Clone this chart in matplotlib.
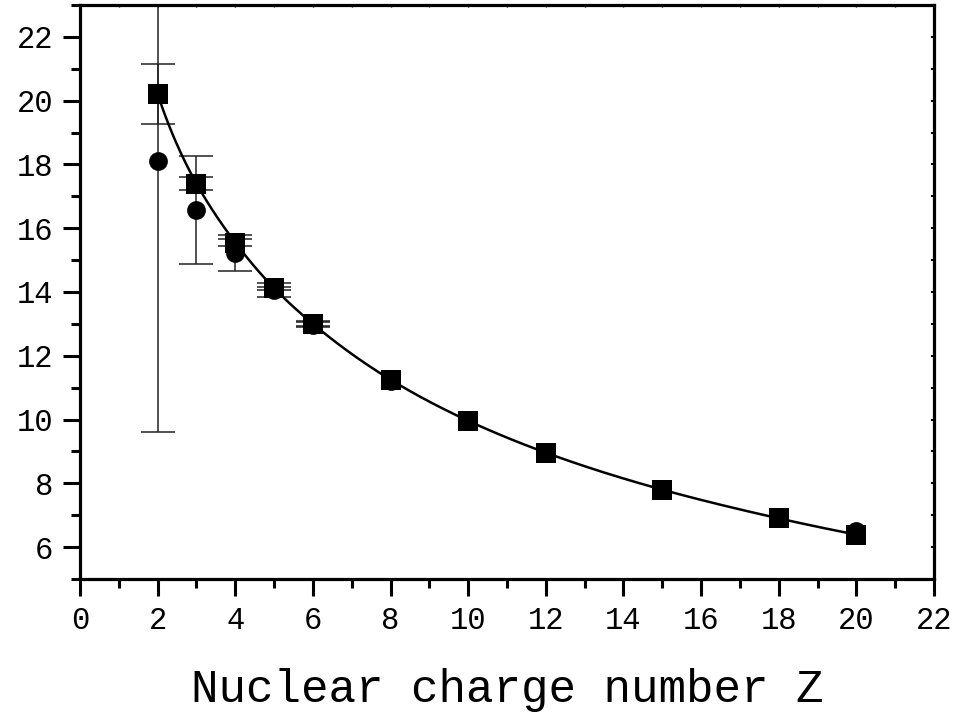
import numpy as np
import matplotlib
matplotlib.use("Agg")
import matplotlib.pyplot as plt
from matplotlib.ticker import MultipleLocator

plt.rcParams['font.family'] = ['Liberation Mono', 'DejaVu Sans Mono']

# Squares (with error bars)
sq_z = [2, 3, 4, 5, 6, 8, 10, 12, 15, 18, 20]
sq_y = [20.21, 17.40, 15.55, 14.12, 13.00, 11.25, 9.96, 8.96, 7.80, 6.90, 6.39]
sq_err = [0.94, 0.20, 0.12, 0.05, 0.08, 0.0, 0.0, 0.0, 0.0, 0.0, 0.0]

# Circles (with error bars)
ci_z = [2, 3, 4, 5, 6, 8, 10, 12, 15, 18, 20]
ci_y = [18.12, 16.56, 15.22, 14.05, 12.97, 11.22, 9.94, 8.95, 7.78, 6.90, 6.49]
ci_err = [8.52, 1.69, 0.57, 0.22, 0.08, 0.0, 0.0, 0.0, 0.0, 0.0, 0.0]

x_ticks = [0, 2, 4, 6, 8, 10, 12, 14, 16, 18, 20, 22]
y_ticks = [6, 8, 10, 12, 14, 16, 18, 20, 22]


def natural_spline(x, y, xs):
    x = np.asarray(x, float)
    y = np.asarray(y, float)
    n = len(x)
    h = np.diff(x)
    A = np.zeros((n, n))
    b = np.zeros(n)
    A[0, 0] = 1
    A[-1, -1] = 1
    for i in range(1, n - 1):
        A[i, i - 1] = h[i - 1]
        A[i, i] = 2 * (h[i - 1] + h[i])
        A[i, i + 1] = h[i]
        b[i] = 6 * ((y[i + 1] - y[i]) / h[i] - (y[i] - y[i - 1]) / h[i - 1])
    M = np.linalg.solve(A, b)
    out = np.empty_like(xs)
    for k, xv in enumerate(xs):
        i = min(max(np.searchsorted(x, xv) - 1, 0), n - 2)
        t1 = x[i + 1] - xv
        t0 = xv - x[i]
        out[k] = (M[i] * t1 ** 3 / (6 * h[i]) + M[i + 1] * t0 ** 3 / (6 * h[i])
                  + (y[i] / h[i] - M[i] * h[i] / 6) * t1
                  + (y[i + 1] / h[i] - M[i + 1] * h[i] / 6) * t0)
    return out


fig = plt.figure(figsize=(9.59, 7.13), dpi=100)
ax = fig.add_axes([0.0834, 0.188, 0.8906, 0.805])

# smooth curve through the squares (spline in log space)
xs = np.linspace(sq_z[0], sq_z[-1], 400)
ys = np.exp(natural_spline(np.log(sq_z), np.log(sq_y), np.log(xs)))
ax.plot(xs, ys, color='black', lw=1.8, zorder=3)


def draw_err(z, y, e):
    zz = [a for a, c in zip(z, e) if c > 0]
    yy = [b for b, c in zip(y, e) if c > 0]
    ee = [c for c in e if c > 0]
    ax.errorbar(zz, yy, yerr=ee, fmt='none', ecolor='#222222',
                elinewidth=1.1, capsize=12, capthick=1.1, zorder=2)


draw_err(ci_z, ci_y, ci_err)
draw_err(sq_z, sq_y, sq_err)
ax.plot(ci_z, ci_y, 'o', color='black', ms=13.5, zorder=4, markeredgewidth=0)
ax.plot(sq_z, sq_y, 's', color='black', ms=14, zorder=5, markeredgewidth=0)

ax.set_xlim(0, 22)
ax.set_ylim(5, 23)
ax.set_xticks(x_ticks)
ax.set_yticks(y_ticks)
ax.xaxis.set_minor_locator(MultipleLocator(1))
ax.yaxis.set_minor_locator(MultipleLocator(1))

for s in ax.spines.values():
    s.set_linewidth(2.3)

ax.tick_params(axis='both', which='major', direction='out', length=12.5,
               width=2.2, labelsize=22, pad=7, top=False, right=False)
ax.tick_params(axis='both', which='minor', direction='out', length=6.5,
               width=2.2, top=False, right=False)

# tiny inward ticks on top and right
ax2 = ax.secondary_xaxis('top')
ax2.set_xticks(x_ticks)
ax2.xaxis.set_minor_locator(MultipleLocator(1))
ax2.tick_params(which='both', direction='in', length=1.5, width=1, labeltop=False)
ax2.spines['top'].set_visible(False)
ax3 = ax.secondary_yaxis('right')
ax3.set_yticks(y_ticks)
ax3.yaxis.set_minor_locator(MultipleLocator(1))
ax3.tick_params(which='both', direction='in', length=2, width=1.5, labelright=False)
ax3.spines['right'].set_visible(False)

ax.set_xlabel('Nuclear charge number Z', fontsize=33, labelpad=23)

fig.savefig('out.png', dpi=100)
